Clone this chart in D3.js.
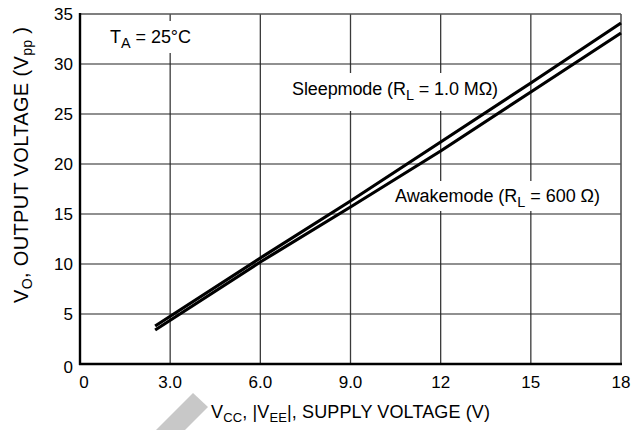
<!DOCTYPE html>
<html><head><meta charset="utf-8">
<script src="https://cdn.jsdelivr.net/npm/d3@7"></script>
<style>
html,body{margin:0;padding:0;background:#fff;}
text{font-family:"Liberation Sans Narrow","Arial Narrow","Liberation Sans",sans-serif;fill:#000;}
</style></head>
<body><svg id="c" width="644" height="430"></svg>
<script>
const xTicks = [0, 3, 6, 9, 12, 15, 18];
const xTickLabels = ["0", "3.0", "6.0", "9.0", "12", "15", "18"];
const yTicks = [0, 5, 10, 15, 20, 25, 30, 35];
const supplyV = [2.5, 6, 9, 12, 15, 18];
const sleepVo = [3.8, 10.6, 16.3, 22.2, 28.1, 34.1];
const awakeVo = [3.4, 10.2, 15.7, 21.3, 27.2, 33.1];

const svg = d3.select("#c");
const x = d3.scaleLinear().domain([0, 18]).range([80, 621]);
const y = d3.scaleLinear().domain([0, 35]).range([364, 14]);

// grid
const g = svg.append("g");
g.selectAll("line.v").data(xTicks.slice(1, -1)).enter().append("line")
  .attr("x1", d => x(d)).attr("x2", d => x(d)).attr("y1", y(35)).attr("y2", y(0))
  .attr("stroke", "#3a3a3a").attr("stroke-width", 1.3);
g.selectAll("line.h").data(yTicks.slice(1, -1)).enter().append("line")
  .attr("x1", x(0)).attr("x2", x(18)).attr("y1", d => y(d)).attr("y2", d => y(d))
  .attr("stroke", "#222").attr("stroke-width", 1.2);

// frame top/right
svg.append("line").attr("x1", x(0)).attr("x2", x(18)).attr("y1", y(35)).attr("y2", y(35)).attr("stroke", "#555").attr("stroke-width", 1.6);
svg.append("line").attr("x1", x(18)).attr("x2", x(18)).attr("y1", y(35)).attr("y2", y(0)).attr("stroke", "#555").attr("stroke-width", 1.6);

// label backgrounds & labels
function label(tx, ty, main, sub, rest, size, len, bg) {
  svg.append("rect").attr("x", bg[0]).attr("y", bg[1]).attr("width", bg[2]).attr("height", bg[3]).attr("fill", "#fff");
  const t = svg.append("text").attr("x", tx).attr("y", ty).attr("font-size", size)
    .attr("textLength", len).attr("lengthAdjust", "spacing");
  t.append("tspan").text(main);
  t.append("tspan").attr("dy", 5).attr("font-size", size * 0.8).text(sub);
  t.append("tspan").attr("dy", -5).text(rest);
}
label(110, 43, "T", "A", " = 25°C", 18, 81, [104, 21, 94, 32]);
label(292, 95, "Sleepmode (R", "L", " = 1.0 MΩ)", 18, 206, [286, 73, 218, 38]);
label(395, 202, "Awakemode (R", "L", " = 600 Ω)", 18, 205, [390, 181, 216, 30]);

// curves
const line = d3.line().x(d => x(d[0])).y(d => y(d[1]));
svg.append("path").datum(d3.zip(supplyV, sleepVo)).attr("d", line)
  .attr("fill", "none").attr("stroke", "#000").attr("stroke-width", 3.2);
svg.append("path").datum(d3.zip(supplyV, awakeVo)).attr("d", line)
  .attr("fill", "none").attr("stroke", "#000").attr("stroke-width", 3.2);

// axes left/bottom
svg.append("line").attr("x1", x(0)).attr("x2", x(0)).attr("y1", y(35) - 1).attr("y2", y(0) + 1).attr("stroke", "#000").attr("stroke-width", 2.4);
svg.append("line").attr("x1", x(0) - 1).attr("x2", x(18) + 1).attr("y1", y(0)).attr("y2", y(0)).attr("stroke", "#000").attr("stroke-width", 2.4);

// tick labels
svg.selectAll("text.yt").data(yTicks).enter().append("text")
  .attr("x", 73).attr("y", d => y(d) + (d === 0 ? 9 : 6)).attr("text-anchor", "end").attr("font-size", 17).text(d => d);
svg.selectAll("text.xt").data(xTicks).enter().append("text")
  .attr("x", (d, i) => x(d) + (i === 0 ? 4 : 0)).attr("y", 388).attr("text-anchor", "middle").attr("font-size", 17)
  .text((d, i) => xTickLabels[i]);

// watermark
svg.append("polygon").attr("points", "193,393 208,407 185,430 156,430").attr("fill", "#c8c8c8");

// axis titles
const xt = svg.append("text").attr("x", 211).attr("y", 418).attr("font-size", 18)
  .attr("textLength", 279).attr("lengthAdjust", "spacing");
xt.append("tspan").text("V");
xt.append("tspan").attr("dy", 4).attr("font-size", 13).text("CC");
xt.append("tspan").attr("dy", -4).text(", |V");
xt.append("tspan").attr("dy", 4).attr("font-size", 13).text("EE");
xt.append("tspan").attr("dy", -4).text("|, SUPPLY VOLTAGE (V)");

const yt = svg.append("text").attr("transform", "translate(28,303) rotate(-90)").attr("font-size", 20)
  .attr("textLength", 276).attr("lengthAdjust", "spacing");
yt.append("tspan").text("V");
yt.append("tspan").attr("dy", 4).attr("font-size", 14).text("O");
yt.append("tspan").attr("dy", -4).text(", OUTPUT VOLTAGE (V");
yt.append("tspan").attr("dy", 4).attr("font-size", 14).text("pp");
yt.append("tspan").attr("dy", -4).text(" )");
</script></body></html>
